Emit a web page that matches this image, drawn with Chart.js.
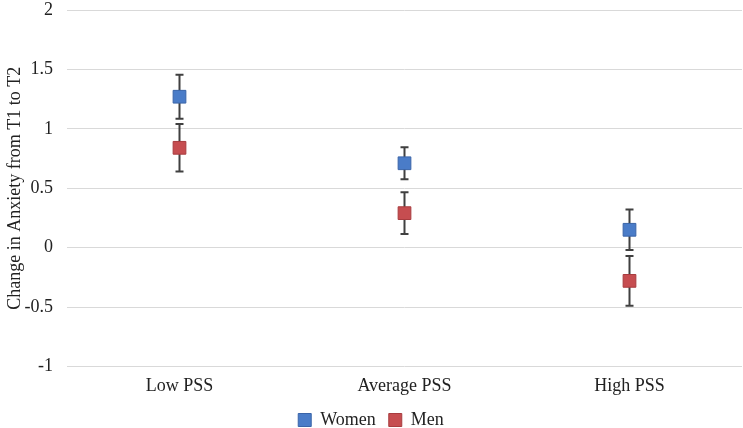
<!DOCTYPE html>
<html>
<head>
<meta charset="utf-8">
<script src="https://cdn.jsdelivr.net/npm/chart.js@4/dist/chart.umd.min.js"></script>
<style>
  html, body { margin: 0; padding: 0; background: #fff; }
  #wrap { width: 743px; height: 428px; position: relative; }
</style>
</head>
<body>
<div id="wrap"><canvas id="chart"></canvas></div>
<script>
// Data
const categories = ['Low PSS', 'Average PSS', 'High PSS'];
const women = [1.27, 0.71, 0.15];
const men = [0.84, 0.29, -0.28];
const womenErr = [0.185, 0.135, 0.17];
const menErr = [0.2, 0.175, 0.21];
const yTicks = [-1, -0.5, 0, 0.5, 1, 1.5, 2];

const serif = "'Liberation Serif', 'Times New Roman', serif";

// draw error bars behind the markers
const errorBars = {
  id: 'errorBars',
  beforeDatasetsDraw(chart) {
    const ctx = chart.ctx;
    const y = chart.scales.y;
    chart.data.datasets.forEach((ds, i) => {
      const meta = chart.getDatasetMeta(i);
      ctx.save();
      ctx.strokeStyle = '#404040';
      ctx.lineWidth = 2;
      meta.data.forEach((pt, j) => {
        const top = y.getPixelForValue(ds.data[j] + ds.errors[j]);
        const bot = y.getPixelForValue(ds.data[j] - ds.errors[j]);
        ctx.beginPath();
        ctx.moveTo(pt.x, top);
        ctx.lineTo(pt.x, bot);
        ctx.moveTo(pt.x - 4, top);
        ctx.lineTo(pt.x + 4, top);
        ctx.moveTo(pt.x - 4, bot);
        ctx.lineTo(pt.x + 4, bot);
        ctx.stroke();
      });
      ctx.restore();
    });
  }
};

new Chart(document.getElementById('chart'), {
  type: 'line',
  data: {
    labels: categories,
    datasets: [{
      label: 'Women',
      data: women,
      errors: womenErr,
      showLine: false,
      pointStyle: 'rect',
      pointRadius: 9,
      pointHoverRadius: 9,
      backgroundColor: '#4a7cc8',
      borderColor: '#3a64a8',
      borderWidth: 1
    }, {
      label: 'Men',
      data: men,
      errors: menErr,
      showLine: false,
      pointStyle: 'rect',
      pointRadius: 9,
      pointHoverRadius: 9,
      backgroundColor: '#c64d50',
      borderColor: '#a83c3f',
      borderWidth: 1
    }]
  },
  options: {
    responsive: true,
    maintainAspectRatio: false,
    animation: false,
    layout: { autoPadding: false, padding: { top: 0, right: 1, left: 0, bottom: -11 } },
    plugins: {
      tooltip: { enabled: false },
      legend: {
        position: 'bottom',
        labels: {
          boxWidth: 13,
          boxHeight: 13,
          padding: 13,
          color: '#222',
          font: { family: serif, size: 18 }
        }
      }
    },
    scales: {
      x: {
        offset: true,
        grid: { display: false },
        border: { display: false },
        ticks: { color: '#222', padding: 1, font: { family: serif, size: 18 } }
      },
      y: {
        min: -1,
        max: 2,
        afterBuildTicks(axis) {
          axis.ticks = yTicks.map(v => ({ value: v }));
        },
        afterFit(axis) {
          axis.width = 67;
          // keep the tick gap horizontal only
          axis.paddingTop = 10;
          axis.paddingBottom = 10;
        },
        grid: { color: '#d9d9d9', lineWidth: 1, drawTicks: false },
        border: { display: false },
        ticks: {
          color: '#222',
          padding: 14,
          font: { family: serif, size: 18 },
          callback: v => String(v)
        },
        title: {
          display: true,
          text: 'Change in Anxiety from T1 to T2',
          color: '#222',
          padding: 4,
          font: { family: serif, size: 18 }
        }
      }
    }
  },
  plugins: [errorBars]
});
</script>
</body>
</html>
